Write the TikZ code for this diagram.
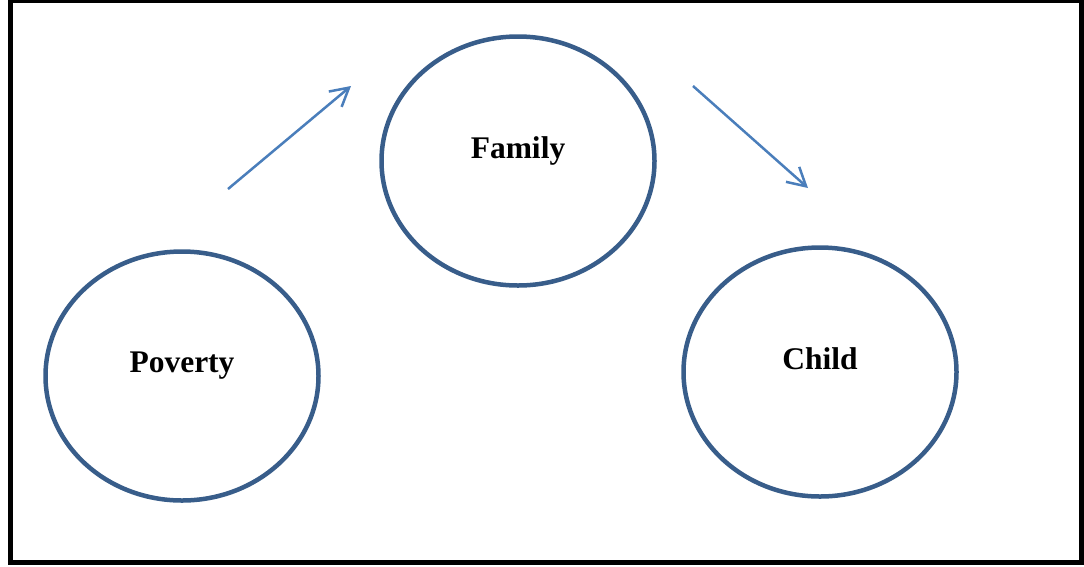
\documentclass[tikz,border=0pt]{standalone}
\usepackage{fontspec}
\setmainfont{Liberation Serif}
\usetikzlibrary{shapes.geometric, arrows.meta, positioning}
\definecolor{RingColor}{RGB}{56, 93, 138}
\definecolor{ArrowColor}{RGB}{74, 126, 187}
\tikzset{
    ring/.style={
        draw=RingColor,
        line width=4.5pt,
        ellipse,
        minimum width=273pt,
        minimum height=249pt,
        inner sep=0pt
    },
    ringtext/.style={
        font=\fontsize{31.5}{36}\selectfont\bfseries,
        inner sep=0pt
    },
    flow/.style={
        draw=ArrowColor,
        line width=2.5pt,
        -{Straight Barb[length=18pt, width=20pt, line width=2.5pt]}
    }
}

\begin{document}
\begin{tikzpicture}[x=1pt, y=-1pt]

    % ============================================================================
    % FRAME
    % ============================================================================

    \useasboundingbox (0,0) rectangle (1084,566);
    \draw[line width=5pt] (10.5,0.8) rectangle (1081,562);

    % ============================================================================
    % ELLIPSES
    % ============================================================================

    % Left: Poverty
    \node[ring] (Poverty) at (182,376) {};
    \node[ringtext] (PovertyText) at ([yshift=10pt]Poverty.center) {Poverty};

    % Top: Family
    \node[ring] (Family) at (518,161) {};
    \node[ringtext] (FamilyText) at ([yshift=10pt]Family.center) {Family};

    % Right: Child
    \node[ring] (Child) at (820,372) {};
    \node[ringtext] (ChildText) at ([yshift=13pt]Child.center) {Child};

    % ============================================================================
    % ARROWS
    % ============================================================================

    \coordinate (PovertyOut) at (228,189);
    \coordinate (FamilyIn) at (351,86);
    \coordinate (FamilyOut) at (693,86);
    \coordinate (ChildIn) at (808,188);

    % Poverty to Family
    \draw[flow] (PovertyOut) -- (FamilyIn);

    % Family to Child
    \draw[flow] (FamilyOut) -- (ChildIn);

\end{tikzpicture}
\end{document}
